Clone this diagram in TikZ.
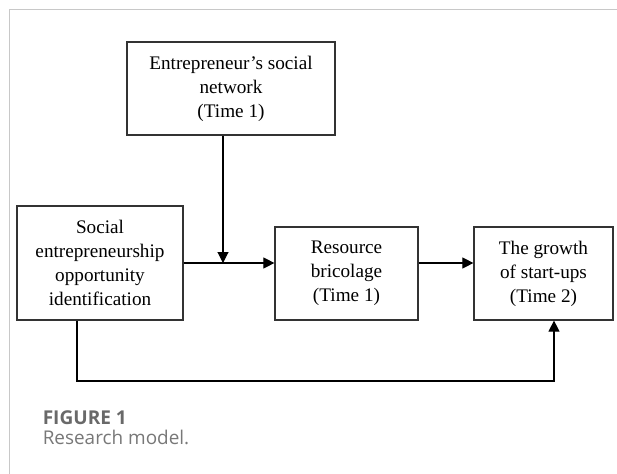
\documentclass[tikz,border=0pt]{standalone}
\usepackage{fontspec}
\setmainfont{Liberation Serif}
\newfontfamily\capfont{Open Sans}
\usepackage{tikz}
\usetikzlibrary{arrows.meta,positioning,calc}
\definecolor{framegray}{RGB}{200,200,200}
\definecolor{capgray}{RGB}{105,105,105}
\definecolor{subgray}{RGB}{120,120,120}

\begin{document}
\begin{tikzpicture}[
  x=0.75pt, y=-0.75pt,
  >={Triangle[length=8.25pt, width=8.25pt]},
  every node/.style={align=center},
  box/.style     = {draw=black!80, line width=0.9pt, inner sep=0pt, text=black,
                    font=\fontsize{14.4pt}{18pt}\selectfont},
  tallbox/.style = {box, minimum width=124.5pt, minimum height=85.5pt},
  topbox/.style  = {box, minimum width=156pt, minimum height=69.75pt},
  sidebox/.style = {box, minimum width=107.25pt, minimum height=69.75pt},
  arr/.style     = {->, line width=0.8pt, black},
  capt/.style    = {anchor=base west, inner sep=0pt}
]
\useasboundingbox (0,0) rectangle (617,474);
\draw[framegray, line width=0.75pt] (9.3,474) -- (9.3,9.3) -- (617,9.3);

\node[topbox] (net) at (231, 88.5)
  {Entrepreneur’s social\\network\\(Time 1)};
\node[tallbox] (soi) at (100, 263)
  {Social\\entrepreneurship\\opportunity\\identification};
\node[sidebox] (rb) at (346.5, 273.5)
  {Resource\\bricolage\\(Time 1)};
\node[sidebox, minimum width=104.25pt] (grw) at (543.5, 273.5)
  {The growth\\of start-ups\\(Time 2)};

% main path and moderator
\coordinate (modPoint) at (223, 263);
\draw[arr] (soi.east) -- (soi.east -| rb.west);
\draw[arr] (rb.east |- soi.east) -- (grw.west |- soi.east);
\draw[arr] (net.south -| modPoint) -- (modPoint);

% direct effect underneath
\coordinate (loopL) at (77, 381);
\coordinate (loopR) at (554, 381);
\draw[arr] (soi.south -| loopL) -- (loopL) -- (loopR) -- (grw.south -| loopR);

\node[capt, text=capgray, font=\capfont\bfseries\fontsize{14.3pt}{16pt}\selectfont] (figno) at (42.5, 424) {FIGURE 1};
\node[capt, text=subgray, font=\capfont\fontsize{14.2pt}{16pt}\selectfont] (figtxt) at (42.5, 444.3) {Research model.};
\end{tikzpicture}
\end{document}
